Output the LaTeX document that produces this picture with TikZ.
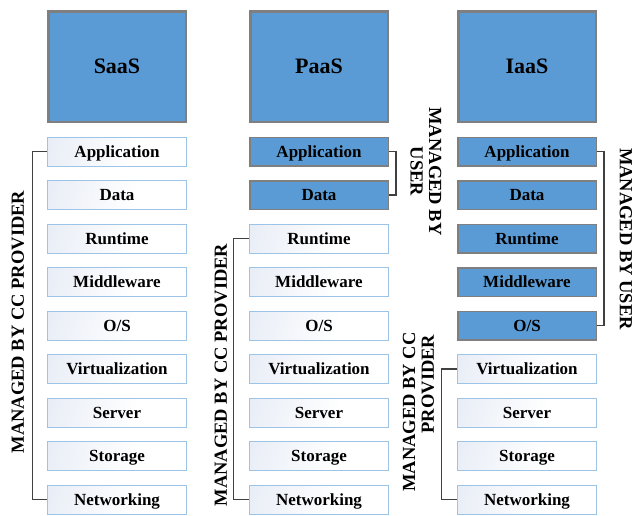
\documentclass[tikz,border=0pt]{standalone}
\usepackage{fontspec}
\setmainfont{Liberation Serif}
\usetikzlibrary{shadows}

\definecolor{tileblue}{HTML}{5B9BD5}
\definecolor{tileedge}{HTML}{7F7F7F}
\definecolor{paleedge}{HTML}{9DC3E6}
\definecolor{palefill}{HTML}{DDE4F1}
\definecolor{wire}{HTML}{404040}

% soft tint on the left edge of provider-managed layers
\pgfdeclarehorizontalshading{tilefade}{100bp}{%
  color(0bp)=(palefill); color(32bp)=(palefill!45!white);
  color(58bp)=(white); color(100bp)=(white)}

\tikzset{
  header/.style={draw=tileedge, line width=2.5pt, fill=tileblue,
    minimum width=137.5pt, minimum height=110.5pt, inner sep=0pt,
    text height=14.6pt, text depth=0pt,
    font=\fontsize{22}{24}\selectfont\bfseries,
    drop shadow={opacity=.25, shadow xshift=1pt, shadow yshift=-1.5pt}},
  layer/.style={minimum width=139pt, minimum height=29pt, inner sep=0pt,
    text height=11.2pt, text depth=0pt,
    font=\fontsize{17}{18}\selectfont\bfseries},
  userlayer/.style={layer, draw=tileedge, line width=1.5pt, fill=tileblue,
    minimum width=138.5pt, minimum height=28.5pt,
    drop shadow={opacity=.2, shadow xshift=.8pt, shadow yshift=-1pt}},
  provlayer/.style={layer, draw=paleedge, line width=0.9pt,
    shading=tilefade, shading angle=-15},
  wire/.style={draw=wire, line width=1.1pt},
  sidetext/.style={inner sep=0pt, font=\fontsize{18.5}{18.5}\selectfont\bfseries},
  upward/.style={sidetext, rotate=90},
  downward/.style={sidetext, rotate=-90, align=center},
}

\begin{document}
\begin{tikzpicture}[x=1pt, y=-1pt]
  \useasboundingbox (0,0) rectangle (633,515);

  % service model headers
  \node[header] (saas) at (117,66.5) {SaaS};
  \node[header] (paas) at (319,66.5) {PaaS};
  \node[header] (iaas) at (527,66.5) {IaaS};

  % layer stacks
  \foreach \lbl [count=\k] in {Application,Data,Runtime,Middleware,O/S,Virtualization,Server,Storage,Networking} {
    \pgfmathsetmacro\yy{151.5+43.5*(\k-1)}
    \node[provlayer] (s\k) at (117,\yy) {\lbl};
    \ifnum\k<3
      \node[userlayer] (p\k) at (319,\yy) {\lbl};
    \else
      \node[provlayer] (p\k) at (319,\yy) {\lbl};
    \fi
    \ifnum\k<6
      \node[userlayer] (i\k) at (527,\yy) {\lbl};
    \else
      \node[provlayer] (i\k) at (527,\yy) {\lbl};
    \fi
  }

  % responsibility brackets
  \draw[wire] (s1.west) -- ++(-15,0) |- (s9.west);
  \draw[wire] (p3.west) -- ++(-16,0) |- (p9.west);
  \draw[wire] (p1.east) -- ++(7,0) |- (p2.east);
  \draw[wire] (i1.east) -- ++(7,0) |- (i5.east);
  \draw[wire] (i6.west) -- ++(-16,0) |- (i9.west);

  % responsibility labels
  \node[upward] (saasprov) at (18,322) {MANAGED BY CC PROVIDER};
  \node[upward] (paasprov) at (221,375) {MANAGED BY CC PROVIDER};
  \node[downward] (paasuser) at (426,171.5) {MANAGED BY\\USER};
  \node[downward] (iaasuser) at (626,239) {MANAGED BY USER};
  \node[upward] (iaasprovA) at (409,412) {MANAGED BY CC};
  \node[upward] (iaasprovB) at (428,384) {PROVIDER};
\end{tikzpicture}
\end{document}
